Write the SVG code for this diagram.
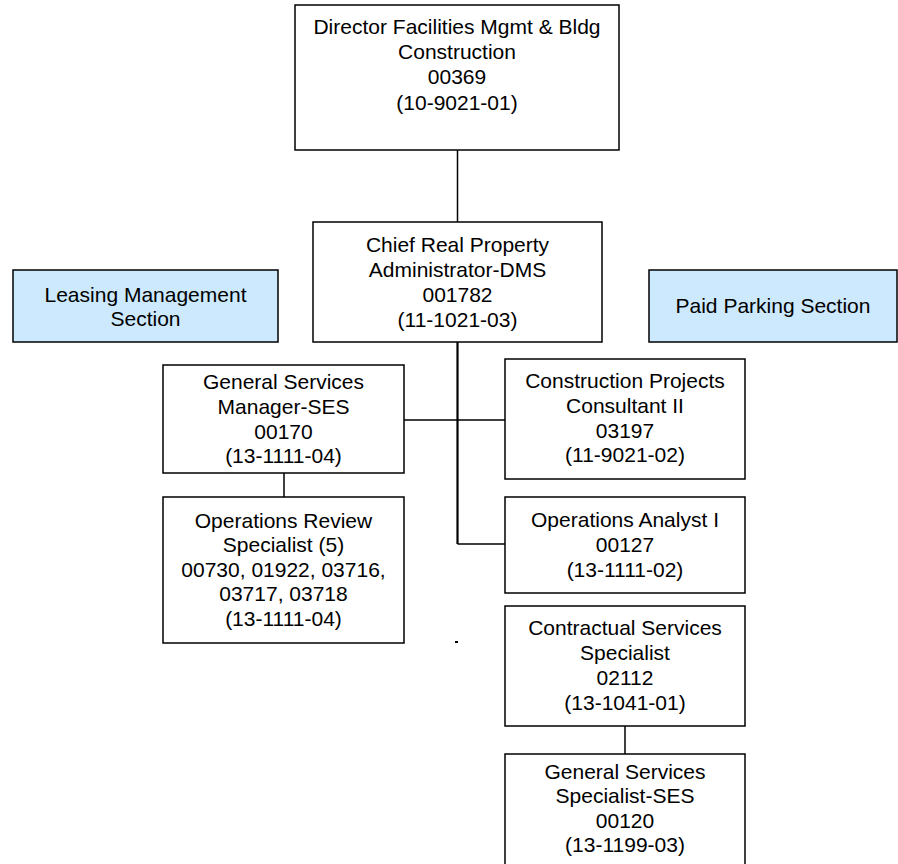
<svg xmlns="http://www.w3.org/2000/svg" width="898" height="864" viewBox="0 0 898 864">
<style>
.box{fill:#ffffff;stroke:#000000;stroke-width:1.5}
.sec{fill:#cce9fd;stroke:#000000;stroke-width:1.5}
.t{font-family:"Liberation Sans",Arial,sans-serif;font-size:21px;fill:#000000;text-anchor:middle}
.c{fill:none;stroke:#000000;stroke-width:1.5}
.cm{fill:none;stroke:#000000;stroke-width:2.2}
</style>
<rect width="898" height="864" fill="#ffffff"/>
<g id="connectors">
<line class="c" x1="457.5" y1="150" x2="457.5" y2="222"/>
<line class="cm" x1="457.5" y1="342" x2="457.5" y2="544"/>
<line class="c" x1="404" y1="420" x2="505" y2="420"/>
<line class="c" x1="457.5" y1="544" x2="505" y2="544"/>
<line class="c" x1="284" y1="473" x2="284" y2="497"/>
<line class="c" x1="625" y1="726" x2="625" y2="754"/>
</g>
<g id="director">
<rect class="box" x="295" y="5" width="324" height="145"/>
<text class="t" x="457" y="33.5">Director Facilities Mgmt &amp; Bldg</text>
<text class="t" x="457" y="59">Construction</text>
<text class="t" x="457" y="84">00369</text>
<text class="t" x="457" y="109.5">(10-9021-01)</text>
</g>
<g id="chief">
<rect class="box" x="313" y="222" width="289" height="120"/>
<text class="t" x="457.5" y="252">Chief Real Property</text>
<text class="t" x="457.5" y="277">Administrator-DMS</text>
<text class="t" x="457.5" y="302">001782</text>
<text class="t" x="457.5" y="327">(11-1021-03)</text>
</g>
<g id="leasing">
<rect class="sec" x="13" y="270" width="265" height="72"/>
<text class="t" x="145.5" y="302">Leasing Management</text>
<text class="t" x="145.5" y="326">Section</text>
</g>
<g id="parking">
<rect class="sec" x="649" y="270" width="248" height="72"/>
<text class="t" x="773" y="313">Paid Parking Section</text>
</g>
<g id="gsm">
<rect class="box" x="163" y="365" width="241" height="108"/>
<text class="t" x="283.5" y="389">General Services</text>
<text class="t" x="283.5" y="414">Manager-SES</text>
<text class="t" x="283.5" y="439">00170</text>
<text class="t" x="283.5" y="463">(13-1111-04)</text>
</g>
<g id="ors">
<rect class="box" x="163" y="497" width="241" height="146"/>
<text class="t" x="283.5" y="528">Operations Review</text>
<text class="t" x="283.5" y="552">Specialist (5)</text>
<text class="t" x="283.5" y="577">00730, 01922, 03716,</text>
<text class="t" x="283.5" y="601">03717, 03718</text>
<text class="t" x="283.5" y="626">(13-1111-04)</text>
</g>
<g id="cpc">
<rect class="box" x="505" y="359" width="240" height="120"/>
<text class="t" x="625" y="388">Construction Projects</text>
<text class="t" x="625" y="413">Consultant II</text>
<text class="t" x="625" y="438">03197</text>
<text class="t" x="625" y="462">(11-9021-02)</text>
</g>
<g id="oa">
<rect class="box" x="505" y="497" width="240" height="96"/>
<text class="t" x="625" y="527">Operations Analyst I</text>
<text class="t" x="625" y="552">00127</text>
<text class="t" x="625" y="577">(13-1111-02)</text>
</g>
<g id="css">
<rect class="box" x="505" y="606" width="240" height="120"/>
<text class="t" x="625" y="635">Contractual Services</text>
<text class="t" x="625" y="660">Specialist</text>
<text class="t" x="625" y="685">02112</text>
<text class="t" x="625" y="710">(13-1041-01)</text>
</g>
<g id="gss">
<rect class="box" x="505" y="754" width="240" height="114"/>
<text class="t" x="625" y="779">General Services</text>
<text class="t" x="625" y="803">Specialist-SES</text>
<text class="t" x="625" y="828">00120</text>
<text class="t" x="625" y="852">(13-1199-03)</text>
</g>
<rect x="455" y="641" width="3" height="2" fill="#000000"/>
</svg>
